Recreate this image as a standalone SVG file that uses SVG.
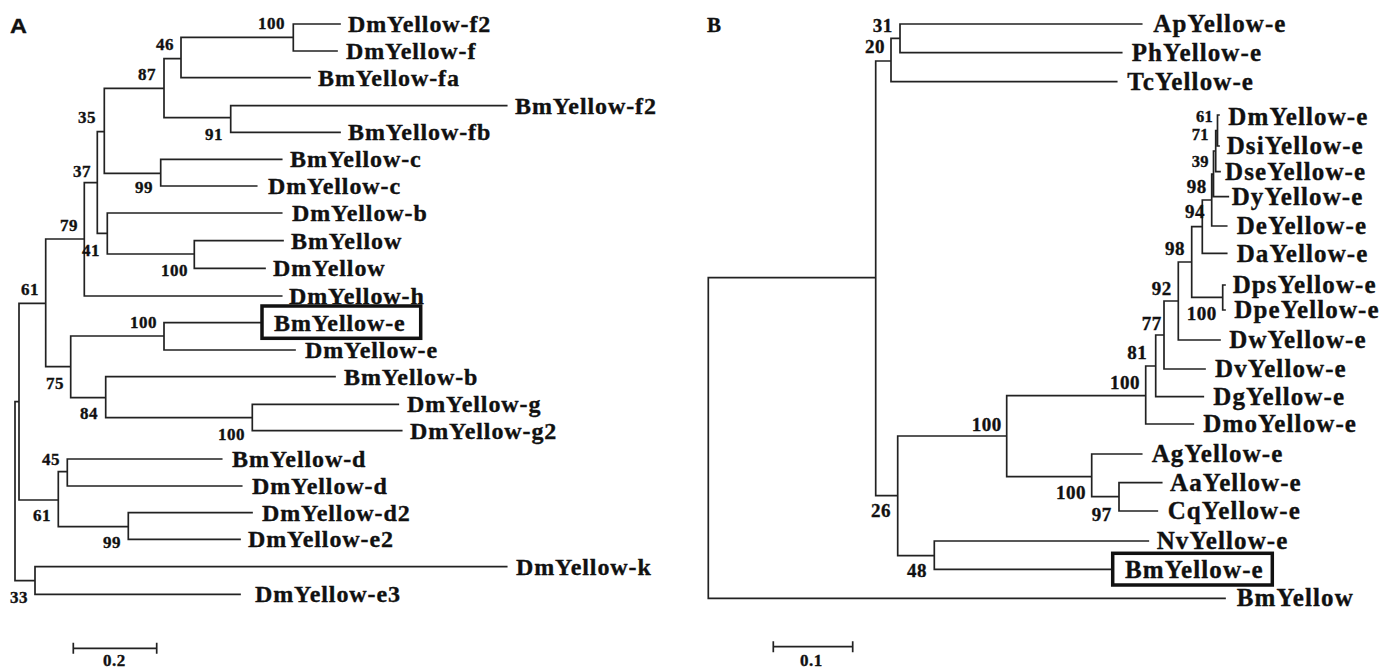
<svg xmlns="http://www.w3.org/2000/svg" width="1386" height="669" viewBox="0 0 1386 669">
<style>
.e{stroke:#222;stroke-width:1.7;fill:none;stroke-linecap:square}
text{font-family:"Liberation Serif","Times New Roman",serif;font-weight:bold;fill:#111;stroke:#111;stroke-width:0.35}
.la{font-size:24px;letter-spacing:0.9px}
.lb{font-size:25px;letter-spacing:1.1px}
.na{font-size:17px;letter-spacing:0.5px}
.nb{font-size:19px;letter-spacing:0.5px}
.ns{font-size:16.5px;letter-spacing:0.3px}
.box{stroke:#111;stroke-width:3.5;fill:none}
</style>
<rect width="1386" height="669" fill="#fff"/>
<g id="panel-labels">
<text transform="translate(10,33) scale(1.2,1)" style="font-family:'Liberation Sans',Arial,sans-serif;font-size:19.5px">A</text>
<text x="707" y="32" style="font-size:21px">B</text>
</g>
<g id="connectors">
<path class="e" d="M15,401.7V580.7 M15,401.7H19 M19,303.3V500 M19,303.3H45.7 M45.7,239V366.7 M45.7,239H84.3 M84.3,182.7V296 M84.3,182.7H97.3 M97.3,131.7V233.3 M97.3,131.7H104.3 M104.3,88.3V173.3 M104.3,88.3H164 M164,58.7V117.7 M164,58.7H181 M181,37.3V77.7 M181,37.3H293.3 M293.3,24V51 M293.3,24H340 M293.3,51H337 M181,77.7H310 M164,117.7H230.7 M230.7,105.7V132.3 M230.7,105.7H506.7 M230.7,132.3H340 M104.3,173.3H160.7 M160.7,159.3V186 M160.7,159.3H281.7 M160.7,186H256.7 M97.3,233.3H107.3 M107.3,213V254 M107.3,213H281.7 M107.3,254H194.3 M194.3,240.7V268.3 M194.3,240.7H283 M194.3,268.3H265 M84.3,296H281.7 M45.7,366.7H70.7 M70.7,336V397.7 M70.7,336H164 M164,322.7V350 M164,322.7H262 M164,350H295 M70.7,397.7H105.7 M105.7,376.7V417.7 M105.7,376.7H335 M105.7,417.7H252.3 M252.3,404.3V430.7 M252.3,404.3H398.3 M252.3,430.7H401.7 M19,500H58.3 M58.3,471.7V526.7 M58.3,471.7H67.3 M67.3,459V486 M67.3,459H221.7 M67.3,486H241.7 M58.3,526.7H128.3 M128.3,512.7V539.3 M128.3,512.7H252 M128.3,539.3H240 M15,580.7H35 M35,566.7V594.3 M35,566.7H506.7 M35,594.3H240"/>
<path class="e" d="M708.3,277.7V598.3 M708.3,277.7H875.7 M708.3,598.3H1225 M875.7,61V495.7 M875.7,61H891 M891,38.3V81.7 M891,38.3H900 M900,24V52.7 M900,24H1141.7 M900,52.7H1121.7 M891,81.7H1116.7 M875.7,495.7H897.7 M897.7,436V555.7 M897.7,436H1006.7 M1006.7,395.7V476.7 M1006.7,395.7H1145.7 M1145.7,366V424 M1145.7,424H1193.3 M1145.7,366H1155.7 M1155.7,335V396.7 M1155.7,396.7H1203.3 M1155.7,335H1164 M1164,301V369 M1164,369H1205 M1164,301H1178.3 M1178.3,262V340 M1178.3,340H1220 M1178.3,262H1191.7 M1191.7,226.7V297.3 M1191.7,297.3H1222.7 M1222.7,285V310 M1222.7,285H1225 M1222.7,310H1225 M1191.7,226.7H1202.3 M1202.3,200V253.3 M1202.3,253.3H1226.7 M1202.3,200H1211.7 M1211.7,174V226 M1211.7,226H1226.7 M1211.7,174H1213.5 M1213.5,151V196.7 M1213.5,196.7H1228.3 M1213.5,151H1215.7 M1215.7,130.5V171.7 M1215.7,171.7H1220 M1215.7,130.5H1217.5 M1217.5,115V146 M1217.5,115H1219 M1217.5,146H1219 M1006.7,476.7H1091.7 M1091.7,454V496.7 M1091.7,454H1141.7 M1091.7,496.7H1119 M1119,482.7V511 M1119,482.7H1161.7 M1119,511H1157.3 M897.7,555.7H934.3 M934.3,541V569.3 M934.3,541H1148.3 M934.3,569.3H1112.7"/>
</g>
<g id="scale-bars">
<path class="e" d="M73.3,648.3H156.7 M73.3,643.5V653 M156.7,643.5V653"/>
<text class="na" x="103" y="666">0.2</text>
<path class="e" d="M773.3,646.7H852.7 M773.3,642V651.5 M852.7,642V651.5"/>
<text class="na" x="800" y="666">0.1</text>
</g>
<g id="tree-A-leaves">
<text class="la" x="348" y="32">DmYellow-f2</text>
<text class="la" x="346" y="59">DmYellow-f</text>
<text class="la" x="318" y="86">BmYellow-fa</text>
<text class="la" x="515" y="114">BmYellow-f2</text>
<text class="la" x="348" y="140">BmYellow-fb</text>
<text class="la" x="290" y="167">BmYellow-c</text>
<text class="la" x="268" y="194">DmYellow-c</text>
<text class="la" x="292" y="221">DmYellow-b</text>
<text class="la" x="291" y="249">BmYellow</text>
<text class="la" x="273" y="276">DmYellow</text>
<text class="la" x="289" y="304">DmYellow-h</text>
<g id="A-BmYellow-e"><rect class="box" x="262" y="306" width="158.7" height="32.3"/><text class="la" x="274" y="331">BmYellow-e</text></g>
<text class="la" x="305" y="358">DmYellow-e</text>
<text class="la" x="344" y="385">BmYellow-b</text>
<text class="la" x="407" y="412">DmYellow-g</text>
<text class="la" x="410" y="439">DmYellow-g2</text>
<text class="la" x="232" y="467">BmYellow-d</text>
<text class="la" x="252" y="494">DmYellow-d</text>
<text class="la" x="262" y="521">DmYellow-d2</text>
<text class="la" x="248" y="547">DmYellow-e2</text>
<text class="la" x="516" y="575">DmYellow-k</text>
<text class="la" x="255" y="602">DmYellow-e3</text>
</g>
<g id="tree-A-support">
<text class="na" x="258" y="29">100</text>
<text class="na" x="156" y="50">46</text>
<text class="na" x="138" y="80">87</text>
<text class="na" x="78" y="123">35</text>
<text class="na" x="205" y="140">91</text>
<text class="na" x="135" y="193">99</text>
<text class="na" x="73" y="177">37</text>
<text class="na" x="60" y="231">79</text>
<text class="na" x="82" y="256">41</text>
<text class="na" x="161" y="276">100</text>
<text class="na" x="21" y="295">61</text>
<text class="na" x="130" y="328">100</text>
<text class="na" x="46" y="389">75</text>
<text class="na" x="80" y="419">84</text>
<text class="na" x="218" y="440">100</text>
<text class="na" x="42" y="465">45</text>
<text class="na" x="33" y="521">61</text>
<text class="na" x="103" y="548">99</text>
<text class="na" x="10" y="603">33</text>
</g>
<g id="tree-B-leaves">
<text class="lb" x="1153.3" y="32">ApYellow-e</text>
<text class="lb" x="1131.7" y="61">PhYellow-e</text>
<text class="lb" x="1127.3" y="90">TcYellow-e</text>
<text class="lb" x="1228.3" y="125">DmYellow-e</text>
<text class="lb" x="1226.7" y="154">DsiYellow-e</text>
<text class="lb" x="1225" y="180">DseYellow-e</text>
<text class="lb" x="1231.7" y="205">DyYellow-e</text>
<text class="lb" x="1236.7" y="234">DeYellow-e</text>
<text class="lb" x="1236.7" y="262">DaYellow-e</text>
<text class="lb" x="1232.7" y="293">DpsYellow-e</text>
<text class="lb" x="1234.3" y="318">DpeYellow-e</text>
<text class="lb" x="1229.3" y="348">DwYellow-e</text>
<text class="lb" x="1215" y="377">DvYellow-e</text>
<text class="lb" x="1213.3" y="405">DgYellow-e</text>
<text class="lb" x="1203.3" y="432">DmoYellow-e</text>
<text class="lb" x="1151.7" y="462">AgYellow-e</text>
<text class="lb" x="1170" y="491">AaYellow-e</text>
<text class="lb" x="1167.7" y="519">CqYellow-e</text>
<text class="lb" x="1156.7" y="549">NvYellow-e</text>
<g id="B-BmYellow-e"><rect class="box" x="1112.7" y="553.3" width="159.6" height="31.7"/><text class="lb" x="1125" y="578">BmYellow-e</text></g>
<text class="lb" x="1236.7" y="606">BmYellow</text>
</g>
<g id="tree-B-support">
<text class="nb" x="872.7" y="32.3">31</text>
<text class="nb" x="865" y="53.3">20</text>
<text class="ns" x="1196" y="121.7">61</text>
<text class="ns" x="1191.7" y="140">71</text>
<text class="ns" x="1191.7" y="166.7">39</text>
<text class="nb" x="1186.7" y="193.3">98</text>
<text class="nb" x="1185" y="218.3">94</text>
<text class="nb" x="1165" y="255">98</text>
<text class="nb" x="1151.7" y="295">92</text>
<text class="nb" x="1186.7" y="320">100</text>
<text class="nb" x="1141.7" y="330">77</text>
<text class="nb" x="1127.3" y="359.3">81</text>
<text class="nb" x="1110" y="389.3">100</text>
<text class="nb" x="971.7" y="430.7">100</text>
<text class="nb" x="1056" y="499">100</text>
<text class="nb" x="1091.7" y="520.7">97</text>
<text class="nb" x="871" y="517.3">26</text>
<text class="nb" x="907" y="576.7">48</text>
</g>
</svg>
